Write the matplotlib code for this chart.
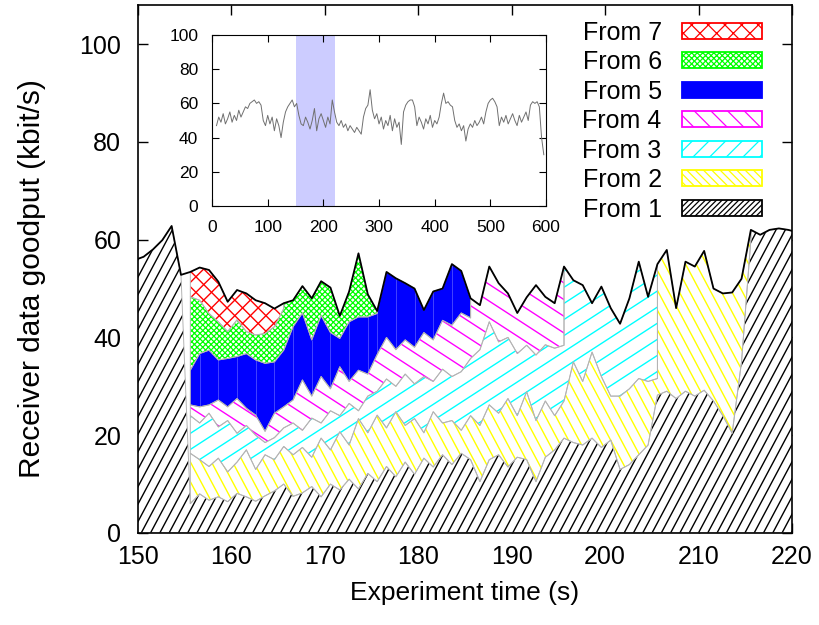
import numpy as np
import matplotlib
matplotlib.use('Agg')
from matplotlib import pyplot as plt
from matplotlib.patches import Patch
from matplotlib.collections import LineCollection
from matplotlib.transforms import IdentityTransform

plt.rcParams['font.family'] = ['Liberation Sans', 'DejaVu Sans']
plt.rcParams['hatch.linewidth'] = 0.9

# one sample per second (s)
time = np.arange(149.6, 221.0, 1.0)

# total receiver goodput (kbit/s), black outline
total = [55.8, 56.5, 58.0, 59.9, 62.8, 52.8, 53.4, 54.3, 53.8, 51.4,
         47.3, 49.7, 49.0, 47.6, 47.0, 45.9, 47.0, 47.6, 50.5, 48.0,
         51.5, 50.2, 44.4, 49.4, 57.2, 48.8, 45.4, 53.4, 52.1, 51.1,
         50.0, 45.6, 49.4, 50.0, 55.0, 53.6, 48.0, 46.6, 54.5, 51.1,
         49.0, 45.0, 48.2, 50.7, 48.3, 47.0, 54.5, 51.7, 50.7, 47.0,
         50.4, 46.0, 42.8, 48.0, 55.5, 48.3, 55.0, 57.9, 46.0, 55.5,
         54.5, 57.7, 50.0, 49.0, 49.2, 52.0, 62.0, 61.0, 62.0, 62.3,
         62.0, 61.5]

# stacked upper edge of "From 1".."From 6" while a higher sender is active
# (all start at t = 155.6 s)
edge1 = [6.0, 8.0, 6.7, 7.4, 6.4, 8.1, 7.4, 6.5, 7.6, 8.6,
         10.0, 7.5, 8.2, 9.5, 7.4, 10.0, 8.8, 11.0, 9.0, 12.2,
         10.5, 13.6, 11.5, 14.5, 12.0, 15.3, 13.5, 16.0, 14.0, 16.3,
         15.0, 10.5, 15.0, 16.0, 13.5, 15.5, 15.0, 10.5, 15.5, 17.0,
         19.4, 18.5, 18.0, 19.4, 17.5, 19.0, 13.0, 14.0, 16.0, 18.0,
         28.2, 29.0, 27.5, 29.0, 28.0, 29.2, 27.0, 24.0, 20.4, 35.0,
         60.0]
edge2 = [16.3, 15.0, 13.6, 15.3, 12.5, 14.5, 17.0, 13.0, 16.0, 15.0,
         17.7, 16.0, 17.5, 15.5, 19.4, 17.0, 20.7, 18.0, 23.4, 20.5,
         24.1, 21.5, 24.8, 22.0, 23.4, 20.5, 24.8, 22.5, 23.0, 21.0,
         24.0, 22.0, 26.2, 24.5, 27.5, 24.0, 28.9, 23.0, 27.0, 24.0,
         27.0, 35.0, 31.0, 37.0, 32.0, 28.0, 28.0, 29.5, 31.6, 31.0,
         31.6]
edge3 = [24.0, 22.5, 24.5, 21.7, 23.0, 20.4, 22.0, 20.0, 18.5, 19.5,
         21.5, 22.5, 21.0, 23.5, 22.5, 25.0, 24.0, 26.5, 25.0, 28.0,
         29.0, 31.5, 30.0, 32.5, 30.5, 32.0, 31.0, 33.5, 32.0, 33.0,
         35.7, 37.5, 43.2, 39.1, 40.0, 36.7, 38.4, 36.4, 38.5, 37.8,
         38.4]
edge4 = [26.2, 25.8, 26.2, 27.2, 25.8, 27.5, 25.5, 24.1, 20.8, 24.5,
         25.8, 27.2, 31.3, 28.0, 32.0, 29.5, 34.0, 31.0, 33.3, 32.5,
         36.5, 40.0, 37.5, 39.5, 38.0, 41.0, 39.5, 43.5, 42.5, 45.0,
         44.0]
edge5 = [33.3, 36.7, 37.4, 35.4, 35.7, 36.1, 36.7, 35.4, 34.7, 35.0,
         37.4, 42.2, 45.0, 39.5, 44.5, 41.0, 39.8, 43.2, 44.2, 44.2,
         44.9]
edge6 = [48.3, 47.6, 44.9, 43.2, 41.2, 43.6, 41.2, 40.5, 40.8, 42.2,
         45.9]

# whole experiment, inset (every 4 s)
inset_time = np.arange(8, 600, 4)
inset_goodput = [47, 52, 49, 54, 48, 51, 55, 49, 53, 50, 56, 52, 55, 58, 57, 60,
                 61, 62, 60, 61, 59,
                 50, 47, 53, 48, 52, 44, 51, 47, 40, 49,
                 55, 58, 60, 62, 58,
                 60, 53, 48, 47, 52, 49, 45, 50, 57, 44, 51, 54, 50, 46, 52, 48, 62,
                 55, 49, 47, 50, 46, 48, 44, 47, 45, 43, 46, 44, 42,
                 52, 57, 59, 68, 56, 51, 54,
                 48, 52, 45, 50, 47, 53, 44, 51, 46, 49, 36,
                 55, 59, 61, 62, 62, 58,
                 47, 52, 49, 45, 51, 48, 53, 46, 50, 48, 52,
                 60, 66, 60, 61, 59, 58,
                 50, 46, 48, 44, 47, 38, 45, 48, 46, 50, 47, 49, 52, 48, 55,
                 60, 62, 63, 61, 58,
                 47, 52, 49, 53, 48, 51, 54, 50, 47, 53, 49, 52, 55, 50,
                 59, 61, 60, 61, 58,
                 40, 30]

labels = ['From 1', 'From 2', 'From 3', 'From 4', 'From 5', 'From 6', 'From 7']
colors = ['black', '#ffff00', '#00ffff', '#ff00ff', '#0000ff', '#00ff00', '#ff0000']
legend_hatches = ['//////', '\\\\\\\\', '//', '\\\\', None, 'xxxxxx', 'xx']
# drawn hatching: list of (angle in degrees, spacing in px) per band
line_hatch = [[(62, 8.2)], [(118, 9.3)], [(33, 13.5)], [(147, 14.0)],
              None, None, [(45, 11.0), (135, 11.0)]]


def hatch_band(ax, band, angle, spacing, color):
    x0, y0, x1, y1 = ax.bbox.extents
    cx, cy = (x0 + x1) / 2, (y0 + y1) / 2
    half = np.hypot(x1 - x0, y1 - y0) / 2
    a = np.radians(angle)
    d = np.array([np.cos(a), np.sin(a)])
    nv = np.array([-np.sin(a), np.cos(a)])
    segs = []
    for p in np.arange(-half, half, spacing):
        c = np.array([cx, cy]) + p * nv
        segs.append([c - half * d, c + half * d])
    lc = LineCollection(segs, colors=color, linewidths=1.0,
                        transform=IdentityTransform(), zorder=2.5)
    ax.add_collection(lc, autolim=False)
    lc.set_clip_path(band.get_paths()[0], band.get_transform())


total = np.array(total)
edges = [edge1, edge2, edge3, edge4, edge5, edge6]
start = 6
n = len(time)

fig = plt.figure(figsize=(8.19, 6.25), dpi=100)
ax = fig.add_axes([0.1685, 0.1472, 0.7985, 0.8448])
ax.set_xlim(150, 220)
ax.set_ylim(0, 108)

for j in range(7):
    if j == 0:
        idx = np.arange(n)
        lower = np.zeros(n)
    else:
        lower = np.array(edges[j - 1])
        idx = np.arange(start, start + len(lower))
    t = time[idx]
    if j < 6:
        # own edge while the sender above is active, then a step up to the total
        e = np.array(edges[j])
        last = start + len(e) - 1
        pos = np.searchsorted(idx, last)
        upper = np.concatenate([total[idx[:start - idx[0]]], e, total[idx[pos:]]])
        t = np.concatenate([t[:pos + 1], t[pos:]])
        lower = np.concatenate([lower[:pos + 1], lower[pos:]])
    else:
        upper = total[idx]
    if j == 4:
        band = ax.fill_between(t, lower, upper, facecolor=colors[j],
                               edgecolor='none', zorder=2)
        vl = ax.vlines(t[1::2], lower[1::2], upper[1::2], colors='#5c5cff',
                       linewidth=0.5, zorder=2.5)
        vl.set_clip_path(band.get_paths()[0], band.get_transform())
    elif line_hatch[j] is None:
        band = ax.fill_between(t, lower, upper, facecolor='white',
                               edgecolor=colors[j], hatch=legend_hatches[j],
                               linewidth=0, zorder=2)
    else:
        band = ax.fill_between(t, lower, upper, facecolor='white',
                               edgecolor='none', zorder=2)
        for angle, spacing in line_hatch[j]:
            hatch_band(ax, band, angle, spacing, colors[j])
    ax.fill_between(t, lower, upper, facecolor='none', edgecolor='#b4b4b4',
                    linewidth=0.7, zorder=3)

ax.plot(time, total, color='black', lw=1.3, zorder=4)

ax.set_xticks(np.arange(150, 221, 10))
ax.set_yticks(np.arange(0, 101, 20))
ax.tick_params(direction='in', length=7, width=1, top=True, right=True,
               labelsize=18)
ax.tick_params(axis='y', pad=12)
ax.tick_params(axis='x', pad=9)
for s in ax.spines.values():
    s.set_linewidth(1.2)
    s.set_zorder(5)
ax.set_xlabel('Experiment time (s)', fontsize=19, labelpad=8)
ax.set_ylabel('Receiver data goodput (kbit/s)', fontsize=21.5)
ax.yaxis.set_label_coords(-0.14, 0.481)

handles = []
for k in range(6, -1, -1):
    solid = legend_hatches[k] is None
    handles.append(Patch(facecolor=colors[k] if solid else 'white',
                         edgecolor=colors[k], hatch=legend_hatches[k],
                         linewidth=1.3, label=labels[k]))
ax.legend(handles=handles, loc='upper right', bbox_to_anchor=(0.93, 0.967),
          bbox_transform=fig.transFigure, frameon=False, markerfirst=False,
          fontsize=18, handlelength=3.2, handleheight=0.6, handletextpad=0.8,
          labelspacing=0.22, borderpad=0, borderaxespad=0)

ins = fig.add_axes([0.2589, 0.6704, 0.4078, 0.2736])
ins.set_facecolor('white')
ins.axvspan(150, 220, color='#ccccff', lw=0)
ins.plot(inset_time, inset_goodput, color='#707070', lw=0.7)
ins.set_xlim(0, 600)
ins.set_ylim(0, 100)
ins.set_xticks(np.arange(0, 601, 100))
ins.set_yticks(np.arange(0, 101, 20))
ins.tick_params(direction='in', length=5, top=True, right=True, labelsize=12.5,
                pad=10)

fig.savefig('out.png', dpi=100)
